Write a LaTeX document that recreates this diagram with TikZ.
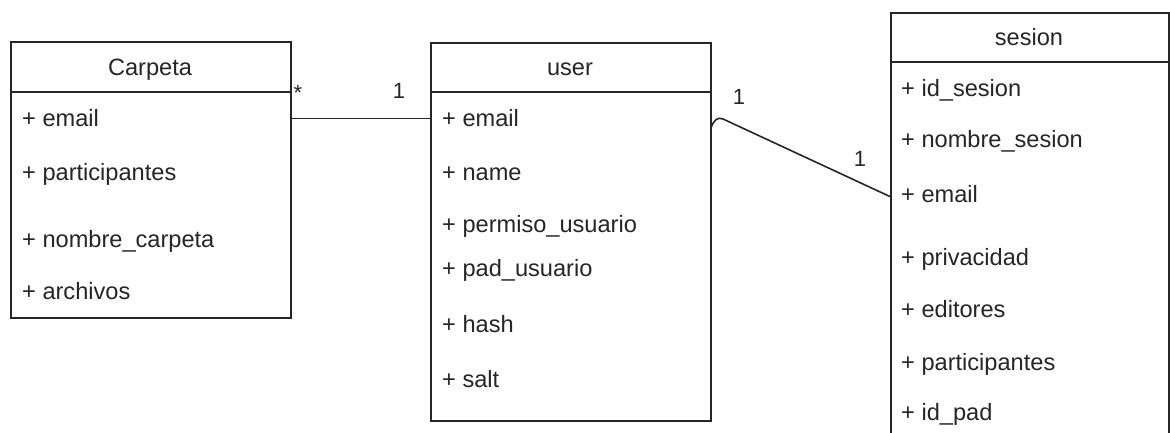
\documentclass[tikz,border=0pt]{standalone}
\usepackage{fontspec}
\setmainfont{Liberation Sans}
\begin{document}
\begin{tikzpicture}[x=1pt,y=-1pt,
  classbox/.style={draw=black!85, line width=1.6pt, anchor=north west, inner sep=0pt, fill=white},
  divider/.style={draw=black!85, line width=1.6pt},
  title/.style={font=\fontsize{23.6}{27}\selectfont, anchor=base, inner sep=0pt, text=black!85},
  attr/.style={font=\fontsize{23.6}{27}\selectfont, anchor=base west, inner sep=0pt, text=black!85},
  mult/.style={font=\fontsize{22}{26}\selectfont, anchor=base, inner sep=0pt, text=black!85},
  rel/.style={draw=black!85, line width=1.6pt}]
\useasboundingbox (0,0) rectangle (1170,433);
\clip (0,0) rectangle (1170,433);

% class boxes
\node[classbox, minimum width=280pt, minimum height=276pt] (carpeta) at (10,41) {};
\node[classbox, minimum width=280pt, minimum height=378pt] (user) at (430,42) {};
\node[classbox, minimum width=278pt, minimum height=440pt] (sesion) at (890,12) {};

% header separators
\coordinate (cdiv) at (10,92);
\coordinate (udiv) at (430,92);
\coordinate (sdiv) at (890,62);
\draw[divider] (cdiv) -- (cdiv -| carpeta.east);
\draw[divider] (udiv) -- (udiv -| user.east);
\draw[divider] (sdiv) -- (sdiv -| sesion.east);

% Carpeta
\node[title] (ctitle) at (150,76) {Carpeta};
\node[attr] (cemail) at (22,127) {+ email};
\node[attr] (cpart) at (22,180) {+ participantes};
\node[attr] (cnombre) at (22,247) {+ nombre\_carpeta};
\node[attr] (carch) at (22,299) {+ archivos};

% user
\node[title] (utitle) at (570,76) {user};
\node[attr] (uemail) at (442,127) {+ email};
\node[attr] (uname) at (442,180) {+ name};
\node[attr] (uperm) at (442,232) {+ permiso\_usuario};
\node[attr] (upad) at (442,276) {+ pad\_usuario};
\node[attr] (uhash) at (442,332) {+ hash};
\node[attr] (usalt) at (442,387) {+ salt};

% sesion
\node[title] (stitle) at (1029,46) {sesion};
\node[attr] (sid) at (901,97) {+ id\_sesion};
\node[attr] (snombre) at (901,148) {+ nombre\_sesion};
\node[attr] (semail) at (901,202) {+ email};
\node[attr] (spriv) at (901,265) {+ privacidad};
\node[attr] (sedit) at (901,317) {+ editores};
\node[attr] (spart) at (901,370) {+ participantes};
\node[attr] (spad) at (901,420) {+ id\_pad};

% Carpeta * -- 1 user
\draw[rel] (carpeta.east |- cemail) -- (user.west |- cemail);
\node[mult] (m1) at (298,101) {*};
\node[mult] (m2) at (399,99) {1};

% user 1 -- 1 sesion
\coordinate (hookA) at (711,128);
\coordinate (hookB) at (723,119);
\draw[rel] (hookA) .. controls (714,119) and (718,117) .. (hookB)
  -- ([yshift=-3pt]sesion.west |- semail);
\node[mult] (m3) at (739,105) {1};
\node[mult] (m4) at (860,166) {1};
\end{tikzpicture}
\end{document}
